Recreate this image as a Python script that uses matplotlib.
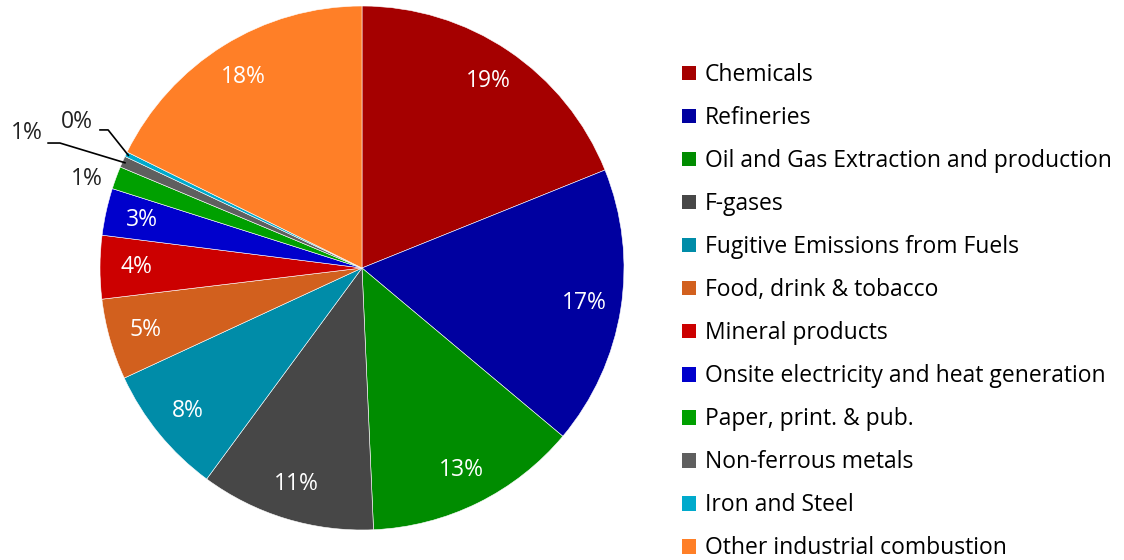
import numpy as np
import matplotlib.pyplot as plt
from matplotlib.patches import Patch

plt.rcParams['font.family'] = ['Open Sans', 'DejaVu Sans']

# 업종별 배출 비율 (%)
labels = ['Chemicals', 'Refineries', 'Oil and Gas Extraction and production',
          'F-gases', 'Fugitive Emissions from Fuels', 'Food, drink & tobacco',
          'Mineral products', 'Onsite electricity and heat generation',
          'Paper, print. & pub.', 'Non-ferrous metals', 'Iron and Steel',
          'Other industrial combustion']
values = [18.9, 17.2, 13.2, 10.8, 8.0, 5.0, 3.9, 2.9, 1.4, 0.7, 0.3, 17.7]
colors = ['#A50000', '#0000A0', '#008C00', '#474747', '#008CA8', '#D2601E',
          '#CC0000', '#0000CC', '#00A000', '#5F5F5F', '#00AACC', '#FF7F27']

W, H = 1124, 560
cx, cy, R = 362, 268, 262

fig = plt.figure(figsize=(W / 100, H / 100), dpi=100)
ax = fig.add_axes([(cx - R) / W, (H - cy - R) / H, 2 * R / W, 2 * R / H])

wedges, _ = ax.pie(values, colors=colors, startangle=90, counterclock=False,
                   radius=1, wedgeprops=dict(edgecolor='white', linewidth=0.4))
ax.set_xlim(-1, 1)
ax.set_ylim(-1, 1)
ax.set_aspect('equal')
ax.axis('off')

# 퍼센트 라벨
def mid(w):
    return np.deg2rad((w.theta1 + w.theta2) / 2)

outside = {8: (-1.05, 0.34), 9: (-1.28, 0.515), 10: (-1.09, 0.557)}
for i, (w, v) in enumerate(zip(wedges, values)):
    a = mid(w)
    txt = '%.0f%%' % v
    if i in outside:
        x, y = outside[i]
        ax.text(x, y, txt, ha='center', va='center', fontsize=16.5,
                color='#222222', clip_on=False)
    else:
        ax.text(0.86 * np.cos(a), 0.86 * np.sin(a), txt, ha='center',
                va='center', fontsize=16.5, color='white')

# 작은 조각 지시선
for i, (x0, x1, y0) in {9: (-1.198, -1.153, 0.477), 10: (-1.0, -0.969, 0.527)}.items():
    a = mid(wedges[i])
    ax.plot([x0, x1, 0.99 * np.cos(a)], [y0, y0, 0.99 * np.sin(a)],
            color='black', lw=1.2, clip_on=False)

handles = [Patch(facecolor=c, edgecolor='none') for c in colors]
fig.legend(handles, labels, loc='upper left', bbox_to_anchor=(673 / W, 1 - 54 / H),
           frameon=False, fontsize=16.5, handlelength=0.6, handleheight=0.6,
           handletextpad=0.4, labelspacing=0.83, borderaxespad=0)

fig.savefig('out.png', dpi=100)
